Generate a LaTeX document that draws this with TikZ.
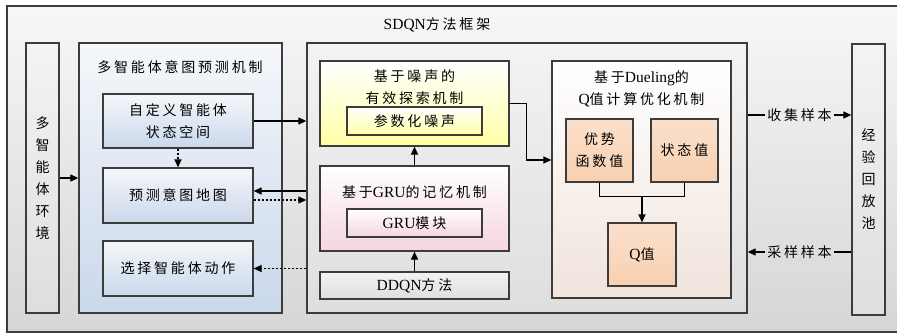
\documentclass[tikz,border=0pt]{standalone}
\usepackage{fontspec}
\setmainfont{Liberation Serif}
\newfontfamily\cjk[LetterSpace=20]{Noto Sans CJK SC}
\usepackage{tikz}
\usetikzlibrary{positioning, arrows.meta}
\definecolor{edge}{RGB}{60,60,60}
\definecolor{bgtop}{RGB}{247,247,247}
\definecolor{bgbot}{RGB}{214,214,214}
\definecolor{gtop}{RGB}{243,243,243}
\definecolor{gbot}{RGB}{222,222,222}
\definecolor{btop}{RGB}{245,247,250}
\definecolor{bbot}{RGB}{202,216,235}
\definecolor{ybot}{RGB}{255,255,165}
\definecolor{pbot}{RGB}{245,212,226}
\definecolor{omid}{RGB}{249,208,176}
\definecolor{obot}{RGB}{240,228,220}
\definecolor{otop}{RGB}{250,224,204}
\newcommand{\en}[1]{{\rmfamily\fontsize{15.5}{22}\selectfont #1}}

\begin{document}
\begin{tikzpicture}[x=1pt, y=-1pt, >={Triangle[length=8pt,width=7pt]},
  every node/.style={font=\cjk\fontsize{14}{22}\selectfont, align=center, inner sep=0pt},
  sz/.style 2 args={minimum width=#1pt, minimum height=#2pt},
  box/.style={draw=edge, line width=1.2pt},
  panel/.style={draw=edge, line width=1.3pt},
  bluefill/.style={top color=btop, bottom color=bbot},
  grayfill/.style={top color=gtop, bottom color=gbot},
  yellowfill/.style={top color=white, bottom color=ybot},
  pinkfill/.style={top color=white, bottom color=pbot},
  peachfill/.style={top color=white, middle color=omid, bottom color=obot},
  peachbox/.style={top color=otop, bottom color=omid},
  conn/.style={draw=black, line width=1.2pt},
  dsh/.style={conn, dash pattern=on 2.5pt off 1.5pt},
  lbl/.style={inner sep=2pt}]
  \useasboundingbox (0,0) rectangle (897,334);
  \path[draw=edge, line width=2pt, top color=bgtop, bottom color=bgbot] (7,6) rectangle (903,332);
  \node (ttl) at (437,25) {\en{SDQN}方法框架};
  \node[panel, sz={33}{270}, grayfill] (env) at (42.5,178) {多\\智\\能\\体\\环\\境};
  \node[panel, sz={203}{270}, bluefill] (intent) at (180.5,178) {};
  \node (intentT) at (180,67) {多智能体意图预测机制};
  \node[box, sz={150}{54}, bluefill] (cust) at (178,121) {自定义智能体\\状态空间};
  \node[box, sz={150}{55}, bluefill] (pred) at (178,195.5) {预测意图地图};
  \node[box, sz={150}{55}, bluefill] (sel) at (178,268.5) {选择智能体动作};
  \node[panel, sz={440}{270}, grayfill] (sdqn) at (527,178) {};
  \node[box, sz={189}{85}, yellowfill] (noise) at (414.5,103.5) {};
  \node (noiseT) at (414.5,87) {基于噪声的\\有效探索机制};
  \node[box, sz={135}{28}, yellowfill] (param) at (414.5,121) {参数化噪声};
  \node[box, sz={189}{85}, pinkfill] (gru) at (414.5,208.5) {};
  \node (gruT) at (414.5,192) {基于\en{GRU}的记忆机制};
  \node[box, sz={135}{28}, pinkfill] (grum) at (414.5,223) {\en{GRU}模块};
  \node[box, sz={189}{27}, grayfill] (ddqn) at (414.5,285.5) {\en{DDQN}方法};
  \node[box, sz={179}{237}, peachfill] (duel) at (641.5,179.5) {};
  \node (duelT) at (641.5,88.5) {基于\en{Dueling}的\\\en{Q}值计算优化机制};
  \node[box, sz={67}{63}, peachbox] (adv) at (599.5,150.5) {优势\\函数值};
  \node[box, sz={67}{63}, peachbox] (stv) at (684.5,150.5) {状态值};
  \node[box, sz={68}{63}, peachbox] (qv) at (642,254.5) {\en{Q}值};
  \node[panel, sz={33}{271}, grayfill] (pool) at (868.5,179.5) {经\\验\\回\\放\\池};
  \node[lbl] (collect) at (799.5,115) {收集样本};
  \node[lbl] (sample) at (799.5,252) {采样样本};
  \coordinate (pin) at ([yshift=4.5pt]pred.east);
  \coordinate (pout) at ([yshift=-4.5pt]pred.east);
  \coordinate (din) at ([yshift=19.5pt]duel.west);
  \draw[conn, ->] (env) -- (intent);
  \draw[dsh, ->] (cust) -- (pred);
  \draw[conn, ->] (cust.east) -- (cust.east -| sdqn.west);
  \draw[conn, ->] (pin -| sdqn.west) -- (pin);
  \draw[dsh, ->] (pout) -- (pout -| sdqn.west);
  \draw[dsh, ->] (sel.east -| sdqn.west) -- (sel.east);
  \draw[conn, ->] (ddqn) -- (gru);
  \draw[conn, ->] (gru) -- (noise);
  \draw[conn, ->] (noise.east) -- ++(17,0) |- (din);
  \draw[conn] (adv.south) -- ++(0,14) coordinate (j) -| (stv.south);
  \draw[conn, ->] (j -| qv.north) -- (qv.north);
  \draw[conn] (sdqn.east |- collect) -- (collect);
  \draw[conn, ->] (collect) -- (collect -| pool.west);
  \draw[conn] (sample -| pool.west) -- (sample);
  \draw[conn, ->] (sample) -- (sample -| sdqn.east);
\end{tikzpicture}
\end{document}
